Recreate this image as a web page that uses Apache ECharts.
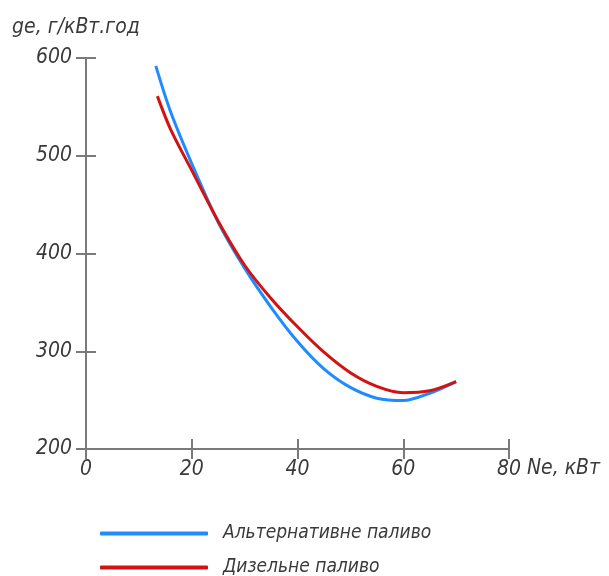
<!DOCTYPE html>
<html>
<head>
<meta charset="utf-8">
<script src="https://cdn.jsdelivr.net/npm/echarts@6/dist/echarts.min.js"></script>
<style>
  html, body { margin: 0; padding: 0; background: #fff; }
  #main { width: 609px; height: 576px; }
</style>
</head>
<body>
<div id="main"></div>
<script>
// values
var altX = [13.2, 16, 20, 25, 30, 35, 40, 45, 50, 55, 60, 65, 70];
var altY = [592, 545, 492, 432, 385, 345, 310, 282, 263, 252, 249.5, 257, 269];
var dieselX = [13.5, 16, 20, 25, 30, 35, 40, 45, 50, 55, 60, 65, 70];
var dieselY = [561, 527, 485, 433, 388, 354, 325, 299, 278, 264, 257.5, 259.5, 269];
var names = ['Альтернативне паливо', 'Дизельне паливо'];

function pairs(xs, ys) {
	var out = [];
	for (var i = 0; i < xs.length; i++) out.push([xs[i], ys[i]]);
	return out;
}

var font = {
	fontFamily: '"DejaVu Sans Condensed", "DejaVu Sans", sans-serif',
	fontStyle: 'italic',
	fontSize: 21,
	color: '#3a3a3a'
};
var axisLine = { lineStyle: { color: '#7a7a7a', width: 2 } };
var tickStyle = { color: '#7a7a7a', width: 2 };

function legendRow(name, top) {
	return {
		orient: 'vertical',
		left: 95,
		top: top,
		icon: 'roundRect',
		itemWidth: 108,
		itemHeight: 4,
		data: [name],
		textStyle: Object.assign({}, font, { fontSize: 19, padding: [0, 0, 0, 10] })
	};
}

var myChart = echarts.init(document.getElementById('main'));
var option = {
	animation: false,
	grid: { left: 86, right: 100, top: 58, bottom: 127 },
	legend: [legendRow(names[0], 519), legendRow(names[1], 553)],
	xAxis: [{
		type: 'value',
		min: 0, max: 80, interval: 20,
		name: 'Ne, кВт',
		nameLocation: 'end',
		nameGap: 14,
		nameTextStyle: Object.assign({}, font, { verticalAlign: 'top', padding: [9, 0, 0, 0] }),
		axisLine: axisLine,
		axisTick: { show: true, length: 10, lineStyle: tickStyle },
		axisLabel: Object.assign({}, font, { margin: 10 }),
		splitLine: { show: false }
	}, {
		type: 'value',
		position: 'bottom',
		min: 0, max: 80, interval: 20,
		axisLine: { show: false },
		axisTick: { show: true, inside: true, length: 10, lineStyle: tickStyle },
		axisLabel: { show: false },
		splitLine: { show: false }
	}],
	yAxis: [{
		type: 'value',
		min: 200, max: 600, interval: 100,
		name: 'ge, г/кВт.год',
		nameLocation: 'end',
		nameGap: 20,
		nameTextStyle: Object.assign({}, font, { align: 'center', padding: [0, 20, 0, 0] }),
		axisLine: axisLine,
		axisTick: { show: true, length: 10, lineStyle: tickStyle },
		axisLabel: Object.assign({}, font, { margin: 14 }),
		splitLine: { show: false }
	}, {
		type: 'value',
		position: 'left',
		min: 200, max: 600, interval: 100,
		axisLine: { show: false },
		axisTick: { show: true, inside: true, length: 10, lineStyle: tickStyle },
		axisLabel: { show: false },
		splitLine: { show: false }
	}],
	series: [{
		name: names[0],
		type: 'line',
		smooth: 0.3,
		symbol: 'none',
		data: pairs(altX, altY),
		itemStyle: { color: '#1e8cff' },
		lineStyle: { width: 3, color: '#1e8cff' },
		z: 2
	}, {
		name: names[1],
		type: 'line',
		smooth: 0.3,
		symbol: 'none',
		data: pairs(dieselX, dieselY),
		itemStyle: { color: '#d31212' },
		lineStyle: { width: 3, color: '#d31212' },
		z: 3
	}]
};
myChart.setOption(option);
</script>
</body>
</html>
